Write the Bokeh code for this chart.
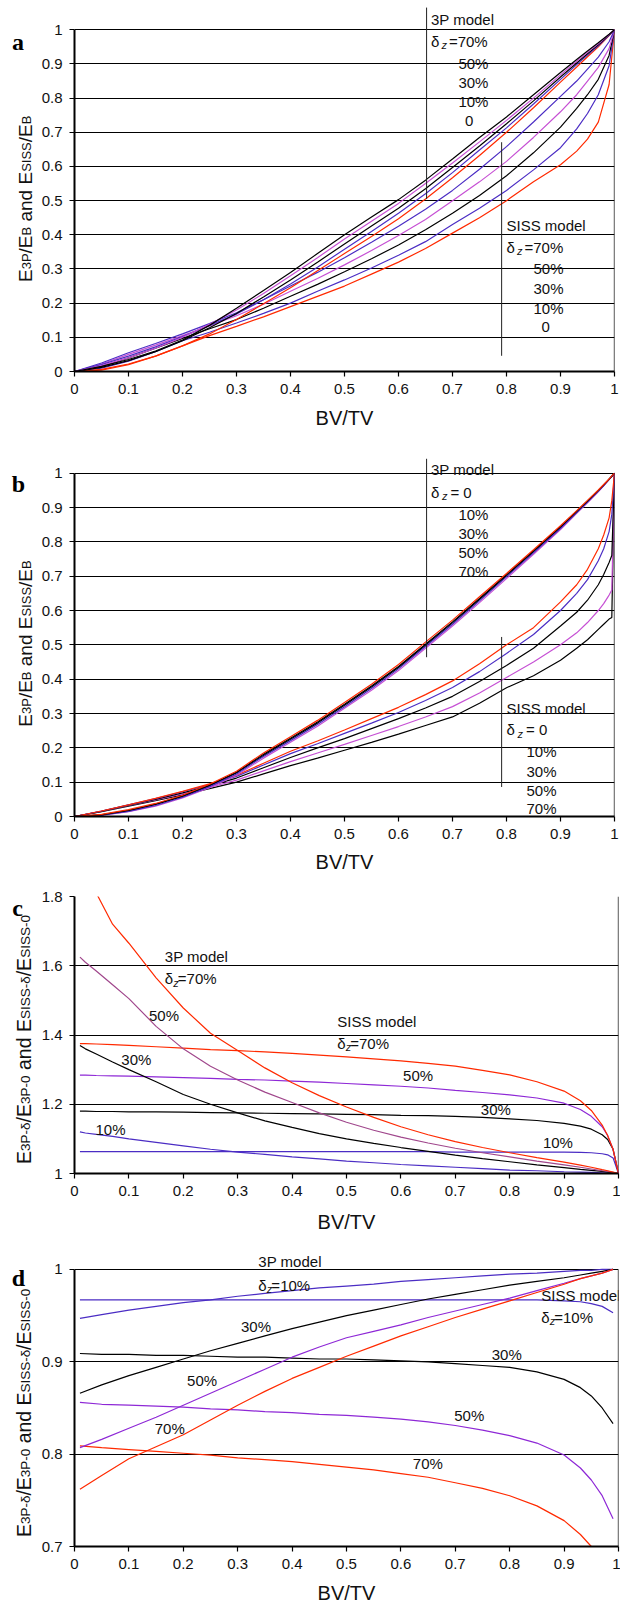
import math
from bokeh.plotting import figure
from bokeh.layouts import column, row
from bokeh.models import Range1d, FixedTicker, CustomJSTickFormatter, Label
from bokeh.core.properties import value
from bokeh.embed import file_html
from bokeh.resources import INLINE

# ---------------- data ----------------
xa = [0, 0.05, 0.1, 0.15, 0.2, 0.25, 0.3, 0.35, 0.4, 0.45, 0.5, 0.55, 0.6, 0.65, 0.7, 0.75, 0.8, 0.85, 0.9, 0.93, 0.95, 0.97, 0.99, 1.0]
a_3p_70 = [0, .015, .035, .06, .092, .135, .185, .237, .29, .345, .40, .452, .503, .56, .622, .685, .745, .81, .875, .913, .938, .962, .987, 1]
a_3p_50 = [0, .017, .04, .068, .10, .138, .18, .228, .28, .333, .388, .44, .492, .55, .61, .672, .735, .80, .868, .908, .934, .959, .986, 1]
a_3p_30 = [0, .012, .032, .058, .09, .128, .17, .218, .268, .32, .373, .426, .478, .535, .597, .66, .725, .792, .862, .903, .93, .956, .985, 1]
a_3p_10 = [0, .02, .045, .072, .102, .135, .168, .21, .256, .305, .358, .41, .463, .52, .582, .648, .713, .783, .855, .898, .926, .953, .984, 1]
a_3p_0 = [0, .006, .022, .045, .075, .11, .152, .198, .245, .295, .345, .395, .447, .505, .567, .632, .70, .772, .847, .891, .921, .95, .983, 1]
a_siss_70 = [0, .025, .055, .082, .11, .14, .172, .21, .25, .29, .333, .378, .425, .475, .53, .592, .658, .73, .805, .85, .885, .92, .965, 1]
a_siss_50 = [0, .022, .05, .077, .105, .133, .163, .197, .235, .272, .312, .354, .398, .445, .50, .555, .615, .685, .76, .81, .85, .89, .945, 1]
a_siss_30 = [0, .015, .04, .068, .097, .125, .152, .185, .22, .255, .292, .33, .37, .415, .463, .515, .573, .64, .715, .77, .81, .855, .925, 1]
a_siss_10 = [0, .01, .03, .058, .09, .115, .142, .17, .20, .235, .268, .303, .34, .38, .43, .478, .53, .59, .655, .71, .755, .81, .895, 1]
a_siss_0 = [0, .004, .02, .045, .075, .105, .132, .16, .19, .22, .25, .285, .32, .36, .405, .45, .50, .555, .605, .645, .68, .73, .84, 1]

xb = [0, .05, .1, .15, .2, .25, .3, .35, .4, .45, .5, .55, .6, .65, .7, .75, .8, .85, .9, .93, .95, .97, .98, .99, .995, 1.0]
b_3p_0 = [0, .006, .02, .038, .062, .094, .132, .185, .232, .28, .332, .385, .443, .508, .572, .64, .708, .777, .847, .891, .921, .951, .967, .983, .992, 1]
b_3p_10 = [0, .005, .018, .036, .06, .091, .129, .181, .228, .275, .327, .38, .437, .502, .567, .635, .704, .774, .844, .889, .919, .95, .966, .983, .991, 1]
b_3p_30 = [0, .004, .015, .032, .056, .087, .124, .175, .221, .268, .32, .373, .43, .495, .56, .628, .698, .768, .839, .885, .916, .948, .964, .982, .991, 1]
b_3p_50 = [0, .005, .017, .035, .058, .089, .127, .178, .225, .272, .324, .377, .434, .499, .564, .632, .701, .771, .842, .887, .918, .949, .965, .982, .991, 1]
b_3p_70 = [0, .003, .014, .03, .054, .084, .12, .17, .216, .263, .315, .368, .425, .49, .555, .623, .693, .764, .836, .883, .914, .946, .963, .981, .99, 1]
b_siss_0 = [0, .016, .034, .053, .073, .095, .12, .155, .19, .22, .252, .285, .318, .355, .395, .445, .50, .55, .625, .675, .72, .78, .82, .87, .92, 1]
b_siss_10 = [0, .016, .034, .052, .072, .093, .117, .15, .183, .212, .242, .272, .303, .338, .376, .422, .475, .53, .60, .65, .69, .745, .78, .83, .88, 1]
b_siss_30 = [0, .015, .033, .05, .069, .089, .112, .142, .172, .20, .227, .256, .285, .316, .35, .393, .44, .49, .555, .595, .63, .675, .705, .74, .76, 1]
b_siss_50 = [0, .015, .032, .048, .066, .085, .106, .133, .16, .185, .21, .236, .262, .29, .32, .36, .405, .45, .50, .535, .565, .60, .62, .645, .66, 1]
b_siss_70 = [0, .014, .03, .046, .063, .081, .10, .124, .148, .17, .193, .216, .24, .265, .29, .33, .375, .41, .455, .49, .515, .545, .56, .575, .58, 1]

xc = [.01, .02, .04, .07, .1, .15, .2, .25, .3, .35, .4, .45, .5, .55, .6, .65, .7, .75, .8, .85, .9, .93, .95, .97, .98, .99, 1.0]
c_3p_70 = [2.05, 1.95, 1.81, 1.72, 1.665, 1.565, 1.478, 1.405, 1.355, 1.305, 1.262, 1.225, 1.192, 1.162, 1.135, 1.112, 1.092, 1.075, 1.06, 1.046, 1.033, 1.024, 1.018, 1.011, 1.008, 1.004, 1.0]
c_3p_50 = [1.625, 1.61, 1.585, 1.545, 1.505, 1.425, 1.36, 1.31, 1.27, 1.235, 1.205, 1.175, 1.148, 1.125, 1.105, 1.088, 1.073, 1.06, 1.048, 1.036, 1.025, 1.018, 1.013, 1.008, 1.006, 1.003, 1.0]
c_3p_30 = [1.37, 1.36, 1.345, 1.322, 1.30, 1.265, 1.228, 1.2, 1.175, 1.152, 1.133, 1.115, 1.10, 1.087, 1.075, 1.064, 1.053, 1.043, 1.034, 1.025, 1.017, 1.012, 1.009, 1.006, 1.004, 1.002, 1.0]
c_3p_10 = [1.12, 1.117, 1.113, 1.107, 1.10, 1.09, 1.08, 1.07, 1.062, 1.055, 1.048, 1.042, 1.036, 1.031, 1.026, 1.022, 1.018, 1.014, 1.01, 1.008, 1.005, 1.004, 1.003, 1.002, 1.001, 1.001, 1.0]
c_siss_70 = [1.375, 1.375, 1.374, 1.372, 1.37, 1.366, 1.362, 1.358, 1.355, 1.351, 1.347, 1.342, 1.337, 1.331, 1.325, 1.318, 1.31, 1.298, 1.285, 1.265, 1.238, 1.21, 1.182, 1.14, 1.11, 1.07, 1.0]
c_siss_50 = [1.284, 1.284, 1.283, 1.282, 1.281, 1.279, 1.277, 1.275, 1.272, 1.27, 1.267, 1.264, 1.26, 1.256, 1.252, 1.247, 1.24, 1.234, 1.227, 1.218, 1.203, 1.185, 1.165, 1.135, 1.11, 1.07, 1.0]
c_siss_30 = [1.18, 1.18, 1.179, 1.179, 1.178, 1.178, 1.177, 1.176, 1.175, 1.174, 1.173, 1.172, 1.171, 1.17, 1.168, 1.167, 1.165, 1.162, 1.158, 1.153, 1.145, 1.137, 1.128, 1.112, 1.098, 1.07, 1.0]
c_siss_10 = [1.063, 1.063, 1.063, 1.063, 1.063, 1.063, 1.063, 1.063, 1.063, 1.063, 1.063, 1.063, 1.063, 1.063, 1.063, 1.063, 1.062, 1.062, 1.062, 1.062, 1.062, 1.061, 1.06, 1.057, 1.054, 1.045, 1.0]

xd = [.01, .05, .1, .15, .2, .25, .3, .35, .4, .45, .5, .55, .6, .65, .7, .75, .8, .85, .9, .93, .95, .97, .99]
d_3p_10 = [.947, .951, .956, .96, .964, .967, .971, .974, .977, .98, .982, .984, .987, .989, .991, .993, .995, .996, .998, .999, .999, 1.0, 1.0]
d_3p_30 = [.866, .875, .885, .894, .903, .912, .92, .928, .936, .943, .95, .956, .962, .968, .973, .978, .983, .987, .991, .994, .996, .998, 1.0]
d_3p_50 = [.807, .816, .828, .84, .853, .866, .879, .892, .905, .916, .926, .933, .94, .948, .955, .962, .969, .977, .985, .99, .993, .996, 1.0]
d_3p_70 = [.762, .777, .795, .808, .821, .837, .853, .868, .882, .894, .906, .917, .928, .938, .948, .957, .966, .975, .984, .99, .993, .996, 1.0]
d_siss_10 = [.967] * 18 + [.966, .965, .963, .96, .953]
d_siss_30 = [.909, .908, .908, .907, .907, .906, .905, .905, .904, .903, .903, .902, .901, .90, .898, .896, .894, .889, .881, .872, .863, .85, .833]
d_siss_50 = [.856, .854, .853, .852, .851, .849, .848, .846, .845, .843, .842, .84, .838, .835, .831, .826, .82, .812, .799, .785, .772, .755, .73]
d_siss_70 = [.809, .807, .805, .803, .801, .799, .796, .794, .792, .789, .786, .783, .779, .775, .769, .763, .755, .744, .728, .713, .70, .685, .665]

x_ticks = [0, 0.1, 0.2, 0.3, 0.4, 0.5, 0.6, 0.7, 0.8, 0.9, 1.0]
ab_yticks = [0, 0.1, 0.2, 0.3, 0.4, 0.5, 0.6, 0.7, 0.8, 0.9, 1.0]
c_yticks = [1.0, 1.2, 1.4, 1.6, 1.8]
d_yticks = [0.7, 0.8, 0.9, 1.0]

# leader lines (x, y from, y to)
a_leaders = [(0.652, 0.505, 1.065), (0.791, 0.046, 0.671)]
b_leaders = [(0.652, 0.464, 1.042), (0.791, 0.086, 0.523)]

# ---------------- style / geometry ----------------
FONT = "Liberation Sans"
RED = "#ff2a00"
BLUE = "#4b2dc4"
BLACK = "#000000"
MAG = "#c650d4"
PURP = "#8e28d6"
MAUVE = "#a0478c"
TXT = "#111111"
NB = "\u00a0"

LW_FIG = 36          # width of the left strip holding the y title / panel letter
MW = 620 - LW_FIG    # width of the chart figure
FL = 74              # frame left on page
GEO = {
    "a": dict(top=0, h=440, mbt=5, mbb=69, right=614, y0=0.0, ppu=341.7, ticks=ab_yticks, xls=10),
    "b": dict(top=440, h=440, mbt=0, mbb=64, right=614, y0=0.0, ppu=343.3, ticks=ab_yticks, xls=9),
    "c": dict(top=880, h=370, mbt=16, mbb=77, right=618, y0=1.0, ppu=277 / 0.8, ticks=c_yticks, xls=12),
    "d": dict(top=1250, h=356, mbt=2, mbb=59, right=618, y0=0.7, ppu=(1547 - 1269) / 0.3, ticks=d_yticks, xls=10),
}
for g in GEO.values():
    g["ybot"] = g["top"] + g["h"] - g["mbb"]

WID = {'E': 667, '3': 556, 'P': 667, '/': 278, 'B': 667, ' ': 278, NB: 278, 'a': 556, 'n': 556, 'd': 556,
       'S': 667, 'I': 278, '-': 333, 'δ': 556, '0': 556}

def twidth(s, size):
    return sum(WID.get(ch, 556) for ch in s) * size / 1000.0

fmt = CustomJSTickFormatter(code="return String(Math.round(tick*10)/10)")

def make_fig(key):
    g = GEO[key]
    fh = g["h"] - g["mbt"] - g["mbb"]
    y1 = g["y0"] + fh / g["ppu"]
    p = figure(width=MW, height=g["h"], x_range=Range1d(0, 1), y_range=Range1d(g["y0"], y1),
               output_backend="svg", toolbar_location=None,
               min_border_left=FL - LW_FIG, min_border_right=620 - g["right"],
               min_border_top=g["mbt"], min_border_bottom=g["mbb"])
    p.outline_line_color = None
    p.background_fill_color = "white"
    p.border_fill_color = "white"
    p.xgrid.visible = False
    p.ygrid.ticker = FixedTicker(ticks=g["ticks"])
    p.ygrid.grid_line_color = "black"
    p.ygrid.grid_line_width = 1.1
    for ax in (p.xaxis[0], p.yaxis[0]):
        ax.axis_line_color = "black"
        ax.axis_line_width = 2
        ax.major_tick_line_color = "black"
        ax.major_tick_line_width = 1.2
        ax.major_tick_in = 0
        ax.minor_tick_line_color = None
        ax.major_label_text_font = FONT
        ax.major_label_text_font_size = "15px"
        ax.major_label_text_color = TXT
        ax.formatter = fmt
    p.xaxis.ticker = FixedTicker(ticks=x_ticks)
    p.xaxis.major_tick_out = 5
    p.xaxis.major_label_standoff = 7
    p.xaxis.axis_label = "BV/TV"
    p.xaxis.axis_label_text_font = FONT
    p.xaxis.axis_label_text_font_size = "20px"
    p.xaxis.axis_label_text_font_style = "normal"
    p.xaxis.axis_label_text_color = TXT
    p.xaxis.axis_label_standoff = g["xls"]
    p.yaxis.ticker = FixedTicker(ticks=g["ticks"])
    p.yaxis.bounds = (g["ticks"][0], g["ticks"][-1])
    p.yaxis.major_tick_out = 5
    p.yaxis.major_label_standoff = 7
    # right border of the chart area
    p.line([p.x_range.end, p.x_range.end], [g["ticks"][0], g["ticks"][-1]], color="black", line_width=1.3)
    return p, g

def side_fig(g):
    # in a row, this strip's frame is aligned to the chart's frame (same top/bottom borders),
    # so its y range covers exactly that band, one unit per pixel
    f = figure(width=LW_FIG, height=g["h"], x_range=Range1d(0, LW_FIG),
               y_range=Range1d(g["mbb"], g["h"] - g["mbt"]),
               output_backend="svg", toolbar_location=None, min_border=0,
               x_axis_type=None, y_axis_type=None)
    f.outline_line_color = None
    f.grid.visible = False
    f.background_fill_color = "white"
    f.border_fill_color = "white"
    return f

def lab(p, x, y, text, size=15, **kw):
    p.add_layout(Label(x=x, y=y, text=text, text_font=FONT, text_font_size=f"{size}px",
                       text_color=TXT, text_align="left", text_baseline="middle", **kw))

def delta_label(p, g, x, y, rest, gap_z, gap_eq):
    lab(p, x, y, "δ")
    lab(p, x + gap_z / (g["right"] - FL), y - 4 / g["ppu"], "z", size=11, text_font_style="italic")
    lab(p, x + gap_eq / (g["right"] - FL), y, rest)

def ylabel(f, g, pieces, center_py, base_px, main, sub_size):
    sizes = [(t, sub_size if sub else main, sub) for t, sub in pieces]
    total = sum(twidth(t, s) for t, s, _ in sizes)
    cur = center_py + total / 2
    for t, s, sub in sizes:
        f.text(x=[base_px + (1.0 if sub else 0)], y=[g["top"] + g["h"] - cur], text=[t],
               angle=math.pi / 2, text_font=value(FONT), text_font_size=value(f"{s}px"),
               text_color=TXT, text_align="left", text_baseline="alphabetic")
        cur -= twidth(t, s)

def letter(f, g, t, px, py):
    f.text(x=[px], y=[g["top"] + g["h"] - py], text=[t], text_font=value("Liberation Serif"),
           text_font_style=value("bold"), text_font_size=value("24px"), text_color="black",
           text_align="center", text_baseline="alphabetic")

AB_PIECES = [("E", 0), ("3P", 1), ("/E", 0), ("B", 1), (NB + "and" + NB + "E", 0), ("SISS", 1), ("/E", 0), ("B", 1)]
CD_PIECES = [("E", 0), ("3P-δ", 1), ("/E", 0), ("3P-0", 1), (NB + "and" + NB + "E", 0), ("SISS-δ", 1), ("/E", 0), ("SISS-0", 1)]
LW = 1.2

# ---------------- panel a ----------------
pa, ga = make_fig("a")
for ys, c in [(a_siss_0, RED), (a_siss_10, BLUE), (a_siss_30, BLACK), (a_siss_50, MAG), (a_siss_70, BLUE),
              (a_3p_0, RED), (a_3p_10, BLUE), (a_3p_30, BLACK), (a_3p_50, MAG), (a_3p_70, BLACK)]:
    pa.line(xa, ys, color=c, line_width=LW)
for x, y0, y1 in a_leaders:
    pa.line([x, x], [y0, y1], color="#222222", line_width=1)
lab(pa, 0.66, 1.029, "3P model")
delta_label(pa, ga, 0.66, 0.967, "=70%", 10.5, 18)
for t, y in [("50%", 0.90), ("30%", 0.845), ("10%", 0.79)]:
    lab(pa, 0.711, y, t)
lab(pa, 0.723, 0.732, "0")
lab(pa, 0.80, 0.427, "SISS model")
delta_label(pa, ga, 0.80, 0.363, "=70%", 10.5, 18)
for t, y in [("50%", 0.30), ("30%", 0.244), ("10%", 0.183)]:
    lab(pa, 0.85, y, t)
lab(pa, 0.865, 0.129, "0")
sa = side_fig(ga)
ylabel(sa, ga, AB_PIECES, 198.3, 24.5, 19, 13)
letter(sa, ga, "a", 17.5, 41.5)

# ---------------- panel b ----------------
pb, gb = make_fig("b")
for ys, c in [(b_siss_70, BLACK), (b_siss_50, MAG), (b_siss_30, BLACK), (b_siss_10, BLUE), (b_siss_0, RED),
              (b_3p_70, MAG), (b_3p_50, BLACK), (b_3p_30, BLUE), (b_3p_10, BLACK), (b_3p_0, RED)]:
    pb.line(xb, ys, color=c, line_width=LW)
for x, y0, y1 in b_leaders:
    pb.line([x, x], [y0, y1], color="#222222", line_width=1)
lab(pb, 0.66, 1.011, "3P model")
delta_label(pb, gb, 0.66, 0.945, "= 0", 11, 19.5)
for t, y in [("10%", 0.88), ("30%", 0.824), ("50%", 0.768), ("70%", 0.714)]:
    lab(pb, 0.711, y, t)
lab(pb, 0.80, 0.314, "SISS model")
delta_label(pb, gb, 0.80, 0.253, "= 0", 11, 19.5)
for t, y in [("10%", 0.188), ("30%", 0.132), ("50%", 0.077), ("70%", 0.022)]:
    lab(pb, 0.837, y, t)
sb = side_fig(gb)
ylabel(sb, gb, AB_PIECES, 643, 24.5, 19, 13)
letter(sb, gb, "b", 18, 483.3)

# ---------------- panel c ----------------
pc, gc = make_fig("c")
for ys, c in [(c_siss_10, BLUE), (c_siss_30, BLACK), (c_siss_50, PURP), (c_siss_70, RED),
              (c_3p_10, BLUE), (c_3p_30, BLACK), (c_3p_50, MAUVE), (c_3p_70, RED)]:
    pc.line(xc, ys, color=c, line_width=LW)
lab(pc, 0.166, 1.626, "3P model")
delta_label(pc, gc, 0.166, 1.562, "=70%", 8.5, 13)
lab(pc, 0.137, 1.456, "50%")
lab(pc, 0.086, 1.329, "30%")
lab(pc, 0.0385, 1.127, "10%")
lab(pc, 0.483, 1.44, "SISS model")
delta_label(pc, gc, 0.483, 1.376, "=70%", 8.5, 13)
lab(pc, 0.604, 1.283, "50%")
lab(pc, 0.747, 1.185, "30%")
lab(pc, 0.861, 1.089, "10%")
sc = side_fig(gc)
ylabel(sc, gc, CD_PIECES, 1039, 23.5, 19.5, 13.5)
letter(sc, gc, "c", 17, 907.5)

# ---------------- panel d ----------------
pd_, gd = make_fig("d")
for ys, c in [(d_siss_10, BLUE), (d_siss_30, BLACK), (d_siss_50, PURP), (d_siss_70, RED)]:
    pd_.line(xd, ys, color=c, line_width=LW)
for ys, c in [(d_3p_10, BLUE), (d_3p_30, BLACK), (d_3p_50, PURP), (d_3p_70, RED)]:
    pd_.line(xd, ys, color=c, line_width=LW)
lab(pd_, 0.338, 1.0086, "3P model")
delta_label(pd_, gd, 0.338, 0.9827, "=10%", 8.5, 13)
lab(pd_, 0.306, 0.9377, "30%")
lab(pd_, 0.207, 0.880, "50%")
lab(pd_, 0.1475, 0.828, "70%")
lab(pd_, 0.858, 0.972, "SISS model")
delta_label(pd_, gd, 0.858, 0.948, "=10%", 8.5, 13)
lab(pd_, 0.767, 0.908, "30%")
lab(pd_, 0.698, 0.842, "50%")
lab(pd_, 0.622, 0.790, "70%")
sd = side_fig(gd)
ylabel(sd, gd, CD_PIECES, 1413, 23.5, 19.5, 13.5)
letter(sd, gd, "d", 18, 1278)

layout = column(row(sa, pa, spacing=0), row(sb, pb, spacing=0),
                row(sc, pc, spacing=0), row(sd, pd_, spacing=0), spacing=0)
open("out.html", "w").write(file_html(layout, INLINE))
